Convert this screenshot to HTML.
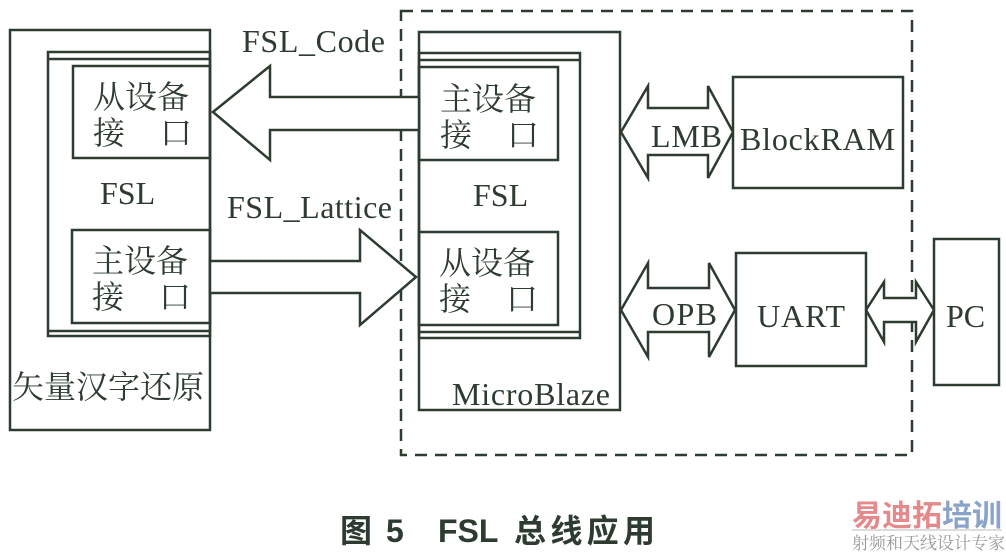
<!DOCTYPE html>
<html><head><meta charset="utf-8"><style>
html,body{margin:0;padding:0;background:#fff;}
svg{display:block;}
text{fill:#2d3b30;}
.t{font-family:"Liberation Serif",serif;font-size:32px;}
.c{font-family:"Liberation Serif","Noto Serif CJK SC","Noto Sans CJK SC",serif;font-size:32px;}
.cap{font-family:"Liberation Sans","Noto Sans CJK SC",sans-serif;font-size:32px;font-weight:bold;}
</style></head><body>
<svg width="1006" height="552" viewBox="0 0 1006 552" xmlns="http://www.w3.org/2000/svg">
<g fill="none" stroke="#2d3b30" stroke-width="2.5">
<rect x="401" y="11" width="511" height="444" stroke-dasharray="12,8"/>
<rect x="10" y="30" width="200" height="400"/>
<rect x="48" y="52" width="162" height="284"/>
<line x1="48" y1="59" x2="210" y2="59"/>
<line x1="48" y1="331" x2="210" y2="331"/>
<rect x="73" y="66" width="137" height="92"/>
<rect x="72" y="230" width="138" height="93"/>
<rect x="419" y="32" width="201" height="378"/>
<rect x="419" y="53" width="161" height="285"/>
<line x1="419" y1="60" x2="580" y2="60"/>
<line x1="419" y1="332" x2="580" y2="332"/>
<rect x="419" y="67" width="139" height="93"/>
<rect x="419" y="232" width="139" height="93"/>
<polygon points="213,112 270,66 270,97 419,97 419,130 270,130 270,160" fill="#fff"/>
<polygon points="210,261 360,261 360,230 416,277 360,325 360,293 210,293" fill="#fff"/>
<polygon points="621,132 648,86 648,108 708,108 708,86 733,132 708,178 708,155 648,155 648,178" fill="#fff"/>
<polygon points="621,310 648,263 648,288 709,288 709,263 735,310 709,357 709,332 648,332 648,357" fill="#fff"/>
<polygon points="866,310 884,282 884,298 916,298 916,282 934,310 916,342 916,322 884,322 884,342" fill="#fff"/>
<rect x="733" y="77" width="170" height="111" fill="#fff"/>
<rect x="736" y="253" width="130" height="113" fill="#fff"/>
<rect x="934" y="239" width="65" height="146" fill="#fff"/>
</g>
<text class="t" x="242" y="52" textLength="143">FSL_Code</text>
<text class="t" x="227" y="218" textLength="165">FSL_Lattice</text>
<text class="t" x="100" y="204">FSL</text>
<text class="t" x="473" y="206">FSL</text>
<text class="t" x="452" y="405" textLength="158">MicroBlaze</text>
<text class="t" x="651" y="147" textLength="71">LMB</text>
<text class="t" x="740" y="150" textLength="155">BlockRAM</text>
<text class="t" x="652" y="325" textLength="65">OPB</text>
<text class="t" x="757" y="327" textLength="88">UART</text>
<text class="t" x="946" y="327">PC</text>
<text class="c" x="93" y="108">从设备</text>
<text class="c" x="93" y="144">接</text><text class="c" x="160" y="144">口</text>
<text class="c" x="92" y="272">主设备</text>
<text class="c" x="92" y="308">接</text><text class="c" x="159" y="308">口</text>
<text class="c" x="440" y="110">主设备</text>
<text class="c" x="440" y="146">接</text><text class="c" x="507" y="146">口</text>
<text class="c" x="439" y="274">从设备</text>
<text class="c" x="439" y="310">接</text><text class="c" x="506" y="310">口</text>
<text class="c" x="12" y="398">矢量汉字还原</text>
<text class="cap" x="340" y="542">图</text>
<text class="cap" x="386" y="542">5</text>
<text class="cap" x="438" y="542">FSL</text>
<text class="cap" x="514" y="542" textLength="141">总线应用</text>
<text x="852" y="526" style="font-family:'Noto Sans CJK SC',sans-serif;font-size:30px;font-weight:bold;fill:#e58a8a;">易迪拓</text>
<text x="942" y="526" style="font-family:'Noto Sans CJK SC',sans-serif;font-size:30px;font-weight:bold;fill:#8aa3c8;">培训</text>
<line x1="852" y1="530" x2="1002" y2="530" stroke="#bbb" stroke-width="1"/>
<text x="852" y="549" style="font-family:'Noto Serif CJK SC',serif;font-size:17px;fill:#999;">射频和天线设计专家</text>
</svg>
</body></html>
